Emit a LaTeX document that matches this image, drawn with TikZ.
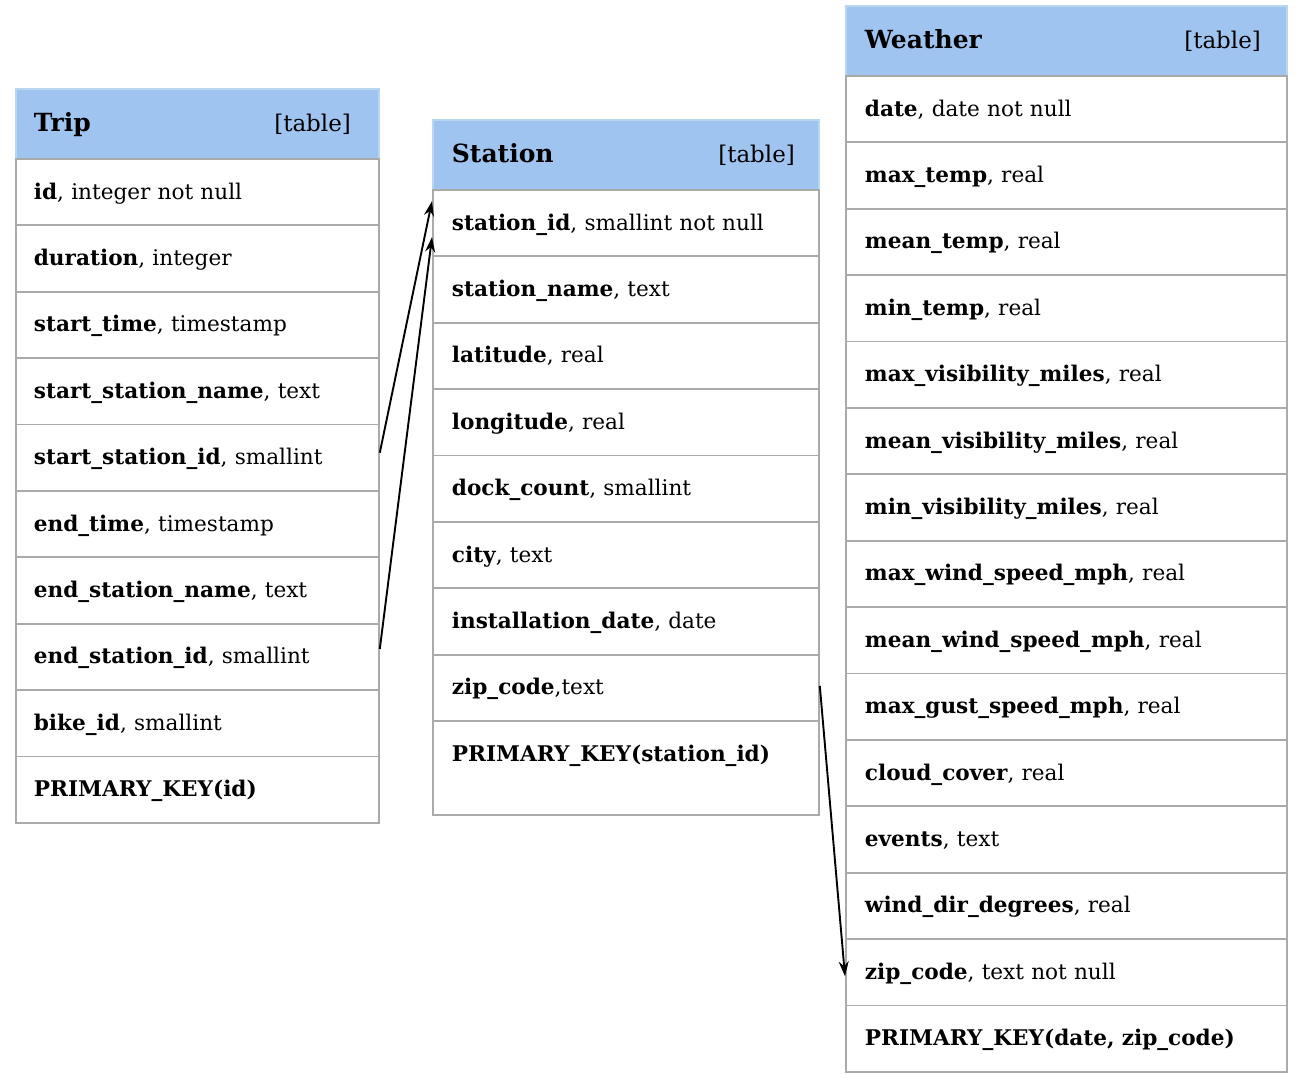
\documentclass[tikz,border=0pt]{standalone}
\usepackage{fontspec}
\setmainfont{DejaVu Serif}
\usetikzlibrary{arrows.meta}

\definecolor{headblue}{HTML}{A0C4F0}
\definecolor{headline}{HTML}{B8D6F0}
\definecolor{rulegray}{HTML}{AAAAAA}

\newcommand{\tabletitle}[2]{{\fontsize{25}{28}\selectfont\textbf{#1}}\hfill
  {\fontsize{23}{26}\selectfont[table]}\rule{#2}{0pt}}

\begin{document}
\begin{tikzpicture}
  [x=1pt,y=-1pt,
   row/.style={draw=rulegray,line width=1.8pt,anchor=north west,minimum height=66.4pt,
     inner xsep=18pt,inner ysep=0pt,text height=18pt,text depth=4pt,
     font=\fontsize{21.6}{25}\selectfont},
   head/.style={row,fill=headblue,draw=headline,minimum height=70pt,text height=20pt},
   link/.style={-{Stealth[length=15pt,width=10pt]},line width=1.9pt}]

  \useasboundingbox (0,0) rectangle (1300,1073);

  % Trip
  \node[head,text width=327pt] (trip-0) at (15,88) {\tabletitle{Trip}{10pt}};
  \foreach \f [count=\i] in {{\textbf{id}, integer not null},
      {\textbf{duration}, integer},
      {\textbf{start\_time}, timestamp},
      {\textbf{start\_station\_name}, text},
      {\textbf{start\_station\_id}, smallint},
      {\textbf{end\_time}, timestamp},
      {\textbf{end\_station\_name}, text},
      {\textbf{end\_station\_id}, smallint},
      {\textbf{bike\_id}, smallint},
      {\textbf{PRIMARY\_KEY(id)}}}
    \node[row,text width=327pt] (trip-\i) at (15,{158+(\i-1)*66.4}) {\f};

  % Station
  \node[head,text width=348pt,inner xsep=19pt] (station-0) at (432,119) {\tabletitle{Station}{5pt}};
  \foreach \f [count=\i] in {{\textbf{station\_id}, smallint not null},
      {\textbf{station\_name}, text},
      {\textbf{latitude}, real},
      {\textbf{longitude}, real},
      {\textbf{dock\_count}, smallint},
      {\textbf{city}, text},
      {\textbf{installation\_date}, date},
      {\textbf{zip\_code},text}}
    \node[row,text width=348pt,inner xsep=19pt] (station-\i) at (432,{189+(\i-1)*66.4}) {\f};
  \node[row,text width=348pt,inner xsep=19pt,minimum height=94pt,text depth=32pt]
    (station-9) at (432,720.2) {\textbf{PRIMARY\_KEY(station\_id)}};

  % Weather
  \node[head,text width=403pt,inner xsep=19pt] (weather-0) at (845,5) {\tabletitle{Weather}{7pt}};
  \foreach \f [count=\i] in {{\textbf{date}, date not null},
      {\textbf{max\_temp}, real},
      {\textbf{mean\_temp}, real},
      {\textbf{min\_temp}, real},
      {\textbf{max\_visibility\_miles}, real},
      {\textbf{mean\_visibility\_miles}, real},
      {\textbf{min\_visibility\_miles}, real},
      {\textbf{max\_wind\_speed\_mph}, real},
      {\textbf{mean\_wind\_speed\_mph}, real},
      {\textbf{max\_gust\_speed\_mph}, real},
      {\textbf{cloud\_cover}, real},
      {\textbf{events}, text},
      {\textbf{wind\_dir\_degrees}, real},
      {\textbf{zip\_code}, text not null},
      {\textbf{PRIMARY\_KEY(date, zip\_code)}}}
    \node[row,text width=403pt,inner xsep=19pt] (weather-\i) at (845,{75+(\i-1)*66.4}) {\f};

  % foreign keys
  \draw[link] ([yshift=5pt]trip-5.east) -- ([yshift=22pt]station-1.west);
  \draw[link] ([yshift=8pt]trip-8.east) -- ([yshift=-14pt]station-1.west);
  \draw[link] ([yshift=2pt]station-8.east) -- ([yshift=-4pt]weather-14.west);
\end{tikzpicture}
\end{document}
